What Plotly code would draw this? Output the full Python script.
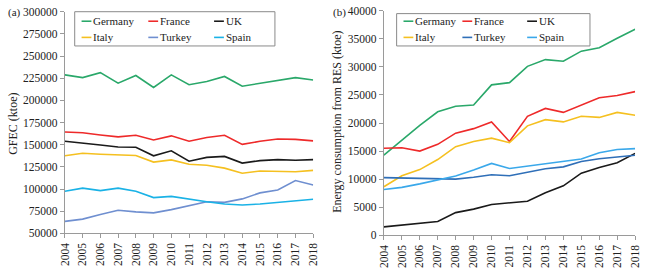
import plotly.graph_objects as go

years = list(range(2004, 2019))
countries = ["Germany", "France", "UK", "Italy", "Turkey", "Spain"]

# (a) GFEC (ktoe)
germany_a = [228800, 225700, 231300, 219400, 228100, 214600, 228800, 217700, 221200, 227000, 216000, 219400, 222900, 225700, 222900]
france_a = [164300, 163500, 161000, 158900, 160700, 155400, 160000, 153900, 158200, 160700, 150400, 153900, 156400, 156000, 154300]
uk_a = [153900, 152100, 149600, 147500, 147100, 137500, 143200, 131400, 135700, 136800, 129300, 132100, 133200, 132500, 133200]
italy_a = [137500, 140400, 139300, 138600, 137900, 130400, 132900, 127900, 126800, 123600, 117900, 120400, 120400, 119600, 121100]
turkey_a = [63600, 66100, 71400, 76100, 74300, 73200, 76800, 81400, 85700, 85000, 88900, 95700, 98900, 109600, 104600]
spain_a = [97500, 101100, 98200, 101100, 97500, 90400, 91800, 88600, 85700, 83200, 82100, 83200, 85000, 86800, 88600]

# (b) Energy consumption from RES (ktoe)
germany_b = [14300, 17000, 19600, 22000, 23000, 23200, 26800, 27200, 30100, 31300, 31000, 32800, 33400, 35100, 36700]
france_b = [15500, 15600, 15000, 16200, 18200, 19000, 20200, 16700, 21200, 22600, 21900, 23200, 24500, 24900, 25600]
uk_b = [1500, 1850, 2130, 2470, 4040, 4660, 5500, 5730, 6070, 7580, 8820, 11070, 12080, 12920, 14600]
italy_b = [8650, 10600, 11700, 13500, 15800, 16700, 17300, 16500, 19500, 20600, 20200, 21200, 21000, 21900, 21400]
turkey_b = [10280, 10220, 10060, 10000, 10000, 10340, 10790, 10620, 11290, 11850, 12190, 13150, 13650, 13990, 14270]
spain_b = [8150, 8540, 9160, 9830, 10560, 11630, 12810, 11910, 12360, 12810, 13260, 13600, 14720, 15280, 15450]

yticks_a = list(range(50000, 300001, 25000))
yticks_b = list(range(0, 40001, 5000))

colors_a = ["#2aa86a", "#ee2a2a", "#1a1a1a", "#f5c020", "#6f8fd0", "#1ab2e6"]
colors_b = ["#2aa86a", "#ee2a2a", "#1a1a1a", "#f5c020", "#2f6fb8", "#3aa8ea"]

W, H = 648, 268
FONT = "Liberation Serif"
TXT = "#222"
AX = "#9a9a9a"


def px(x):
    return x / W


def py(y):
    return 1 - y / H


fig = go.Figure()
series_a = [germany_a, france_a, uk_a, italy_a, turkey_a, spain_a]
series_b = [germany_b, france_b, uk_b, italy_b, turkey_b, spain_b]
for name, vals, c in zip(countries, series_a, colors_a):
    fig.add_trace(go.Scatter(x=years, y=vals, name=name, mode="lines",
                             line=dict(color=c, width=1.6), xaxis="x", yaxis="y", showlegend=False))
for name, vals, c in zip(countries, series_b, colors_b):
    fig.add_trace(go.Scatter(x=years, y=vals, name=name, mode="lines",
                             line=dict(color=c, width=1.6), xaxis="x2", yaxis="y2", showlegend=False))

axis_common = dict(showline=True, linecolor=AX, linewidth=1, ticks="outside", ticklen=4,
                   tickcolor=AX, showgrid=False, zeroline=False, ticklabeloverflow="allow",
                   tickfont=dict(family=FONT, size=11.5, color=TXT))

fig.update_layout(
    width=W, height=H, margin=dict(l=0, r=0, t=0, b=0),
    paper_bgcolor="white", plot_bgcolor="white",
    font=dict(family=FONT, size=11, color=TXT),
    xaxis=dict(domain=[px(60), px(313)], range=[2004, 2018], tickmode="array", tickvals=years,
               ticktext=[str(y) for y in years], tickangle=-90, anchor="y", **axis_common),
    yaxis=dict(domain=[py(239), py(6)], range=[50000, 300000], tickmode="array", tickvals=yticks_a,
               ticktext=[str(v) for v in yticks_a], anchor="x", **axis_common),
    xaxis2=dict(domain=[px(385), px(641)], range=[2004, 2018], tickmode="array", tickvals=years,
                ticktext=[str(y) for y in years], tickangle=-90, anchor="y2", **axis_common),
    yaxis2=dict(domain=[py(241), py(5)], range=[0, 40000], tickmode="array", tickvals=yticks_b,
                ticktext=[str(v) for v in yticks_b], anchor="x2", **axis_common),
)

annotations = [
    dict(text="(a)", x=px(0), y=py(7), xanchor="left", yanchor="middle", font=dict(size=11)),
    dict(text="(b)", x=px(331), y=py(7), xanchor="left", yanchor="middle", font=dict(size=11)),
    dict(text="GFEC (ktoe)", x=px(7), y=py(124), textangle=-90, xanchor="center", yanchor="middle",
         font=dict(size=12)),
    dict(text="Energy consumption from RES (ktoe)", x=px(337), y=py(122), textangle=-90,
         xanchor="center", yanchor="middle", font=dict(size=12)),
]
shapes = []

# Legend boxes (one per panel)
legend_specs = [
    dict(box=(70, 6, 274, 42), cols=[77, 145, 212], colors=colors_a),
    dict(box=(398, 8, 595, 42), cols=[405, 465, 531], colors=colors_b),
]
rows = [16, 33]
for spec in legend_specs:
    x0, y0, x1, y1 = spec["box"]
    shapes.append(dict(type="rect", xref="paper", yref="paper", x0=px(x0), x1=px(x1), y0=py(y1), y1=py(y0),
                       line=dict(color="#8a8a8a", width=1), fillcolor="rgba(0,0,0,0)"))
    for i, name in enumerate(countries):
        r, c = divmod(i, 3)
        lx = spec["cols"][c]
        ly = rows[r]
        shapes.append(dict(type="line", xref="paper", yref="paper", x0=px(lx), x1=px(lx + 10),
                           y0=py(ly), y1=py(ly), line=dict(color=spec["colors"][i], width=1.6)))
        annotations.append(dict(text=name, x=px(lx + 10), y=py(ly), xanchor="left", yanchor="middle",
                                font=dict(size=11)))

for a in annotations:
    a.update(xref="paper", yref="paper", showarrow=False)
fig.update_layout(annotations=annotations, shapes=shapes)

fig.write_html("out.html")
